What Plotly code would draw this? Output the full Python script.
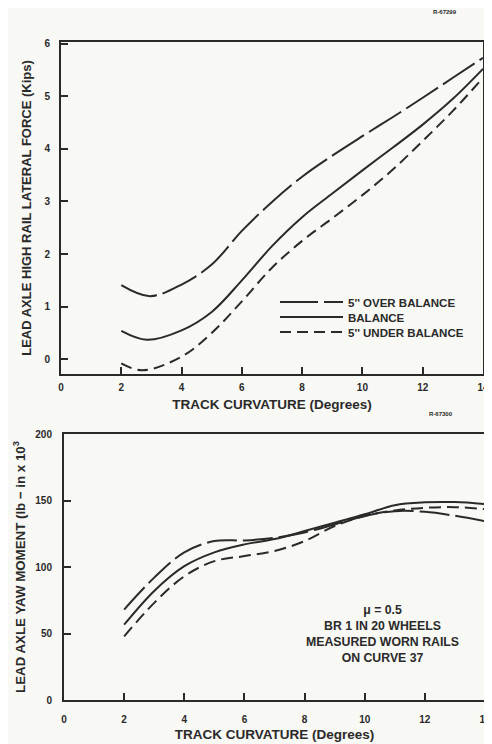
import plotly.graph_objects as go

# ---------------- data ----------------
curvature = [2, 3, 4, 5, 6, 7, 8, 9, 10, 11, 12, 13, 14]

# top chart: lead axle high rail lateral force (kips)
force_over_x = [2, 2.95, 4, 5, 6, 7, 8, 9, 10, 11, 12, 13, 14]
force_over = [1.41, 1.20, 1.42, 1.80, 2.44, 2.99, 3.47, 3.87, 4.24, 4.60, 4.97, 5.35, 5.73]
force_bal_x = [2, 2.85, 4, 5, 6, 7, 8, 9, 10, 11, 12, 13, 14]
force_bal = [0.54, 0.37, 0.55, 0.90, 1.50, 2.15, 2.70, 3.15, 3.59, 4.02, 4.46, 4.95, 5.52]
force_under_x = [2, 2.7, 4, 5, 6, 7, 8, 9, 10, 11, 12, 13, 14]
force_under = [-0.08, -0.21, 0.05, 0.50, 1.10, 1.74, 2.25, 2.68, 3.12, 3.60, 4.15, 4.72, 5.35]

# bottom chart: lead axle yaw moment (lb-in x 10^3)
yaw_over = [68, 92, 111, 119.5, 120, 122, 126, 132, 138.4, 142, 141.5, 138.5, 134.5]
yaw_bal = [56.6, 82, 100.6, 111, 117, 121, 127, 133.3, 139.6, 146.5, 148.6, 148.8, 147.3]
yaw_under = [47.8, 73, 93, 104.4, 108.2, 112, 119.5, 130.8, 138.4, 142.5, 144.5, 145, 143.5]

series_names = ["5'' OVER BALANCE", "BALANCE", "5'' UNDER BALANCE"]
x_ticks = [0, 2, 4, 6, 8, 10, 12, 14]
force_ticks = [0, 1, 2, 3, 4, 5, 6]
yaw_ticks = [0, 50, 100, 150, 200]

# ---------------- layout helpers ----------------
W, H = 492, 744
OFF = 8  # page body margin around the plot div


def fx(px):
    return (px - OFF) / W


def fy(py):
    return 1 - (py - OFF) / H


# ---------------- styling ----------------
INK = "#2a2a2a"
BG = "#f8f8f4"
FONT = "Liberation Sans"

fig = go.Figure()

top_dash = ["38px,6px", "solid", "11px,6px"]
legend_ids = ["legend", "legend2", "legend3"]
for xs, ys, name, dash, lg in zip(
    [force_over_x, force_bal_x, force_under_x],
    [force_over, force_bal, force_under],
    series_names, top_dash, legend_ids):
    fig.add_trace(go.Scatter(
        x=xs, y=ys, name=name, mode="lines",
        line=dict(color=INK, width=2, dash=dash, shape="spline", smoothing=1.0),
        xaxis="x", yaxis="y", showlegend=True, legend=lg))

bot_dash = ["30px,6px", "solid", "12px,6px"]
for ys, name, dash in zip([yaw_over, yaw_bal, yaw_under], series_names, bot_dash):
    fig.add_trace(go.Scatter(
        x=curvature, y=ys, name=name, mode="lines",
        line=dict(color=INK, width=2, dash=dash, shape="spline", smoothing=1.0),
        xaxis="x2", yaxis="y2", showlegend=False))

tickfont = dict(family=FONT, size=10, color=INK, weight="bold")
titlefont = dict(family=FONT, size=13.5, color=INK, weight="bold")

axis_common = dict(
    showline=True, mirror=True, linecolor=INK, linewidth=2,
    ticks="inside", ticklen=7, tickwidth=1.5, tickcolor=INK,
    showgrid=False, zeroline=False, tickfont=tickfont,
    automargin=False,
)

legend_common = dict(xanchor="left", yanchor="middle", x=fx(275),
                     bgcolor="rgba(0,0,0,0)", itemwidth=63,
                     font=dict(family=FONT, size=11.5, color=INK, weight="bold"))

fig.update_layout(
    width=W, height=H,
    margin=dict(l=0, r=0, t=0, b=0, autoexpand=False),
    paper_bgcolor=BG, plot_bgcolor=BG,
    font=dict(family=FONT, color=INK),
    xaxis=dict(axis_common, domain=[fx(61), fx(483)], anchor="y",
               range=[0, 14], tickvals=x_ticks, ticklabelstandoff=3,
               title=dict(text="TRACK CURVATURE (Degrees)", font=titlefont, standoff=8)),
    yaxis=dict(axis_common, domain=[fy(374), fy(42)], anchor="x",
               range=[-0.28, 6.03], tickvals=force_ticks, ticklabelstandoff=7,
               title=dict(text="LEAD AXLE HIGH RAIL LATERAL FORCE (Kips)",
                          font=dict(titlefont, size=13), standoff=10)),
    xaxis2=dict(axis_common, domain=[fx(64), fx(485)], anchor="y2",
                range=[0, 14], tickvals=x_ticks, ticklabelstandoff=9,
                title=dict(text="TRACK CURVATURE (Degrees)", font=titlefont, standoff=6)),
    yaxis2=dict(axis_common, domain=[fy(700), fy(434)], anchor="x2",
                range=[0, 200], tickvals=yaw_ticks, ticklabelstandoff=8,
                title=dict(text="LEAD AXLE YAW MOMENT (lb \u2212 in x 10<sup>3</sup>",
                           font=dict(titlefont, size=13.3), standoff=7)),
    legend=dict(legend_common, y=fy(302)),
    legend2=dict(legend_common, y=fy(317)),
    legend3=dict(legend_common, y=fy(332)),
    showlegend=True,
)

fig.add_annotation(text="R-67299", xref="paper", yref="paper", x=fx(445), y=fy(12),
                   xanchor="center", yanchor="middle", showarrow=False,
                   font=dict(family=FONT, size=6, color=INK, weight="bold"))
fig.add_annotation(text="R-67300", xref="paper", yref="paper", x=fx(441), y=fy(414),
                   xanchor="center", yanchor="middle", showarrow=False,
                   font=dict(family=FONT, size=6, color=INK, weight="bold"))
fig.add_annotation(text="\u03bc = 0.5<br>BR 1 IN 20 WHEELS<br>MEASURED WORN RAILS<br>ON CURVE 37",
                   xref="paper", yref="paper", x=fx(382), y=fy(634),
                   xanchor="center", yanchor="middle",
                   showarrow=False, align="center",
                   font=dict(family=FONT, size=12.3, color=INK, weight="bold"))

fig.write_html("out.html")
